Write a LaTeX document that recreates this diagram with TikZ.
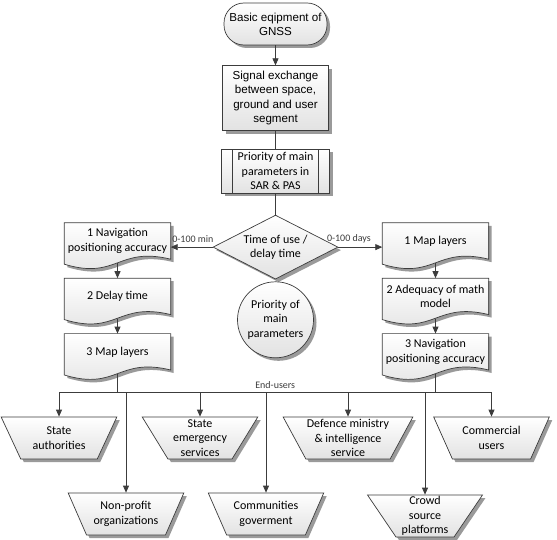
\documentclass[tikz,border=0pt]{standalone}
\usepackage{fontspec}
\setmainfont{Carlito}
\newfontfamily\arialfont{Liberation Sans}
\usepackage{xcolor}
\usepackage{tikz}
\usetikzlibrary{arrows.meta,positioning,shapes.geometric,shapes.misc,%
                shadows,backgrounds,calc}
\definecolor{edge}{HTML}{3C3C3C}
\definecolor{shadowgray}{HTML}{9A9A9A}
\definecolor{fillbot}{HTML}{E2E2E2}
\tikzset{
  shaded/.style ={draw=edge,line width=0.7pt,top color=white,bottom color=fillbot,
                  drop shadow={shadow xshift=3pt,shadow yshift=-3pt,fill=shadowgray,opacity=1}},
  term/.style   ={shaded,rectangle,rounded corners=20pt,minimum width=103pt,minimum height=42pt,
                  inner sep=0pt,align=center,font=\arialfont\fontsize{11.6}{14}\selectfont},
  box/.style    ={shaded,rectangle,minimum width=106pt,minimum height=65pt,inner sep=2pt,
                  align=center,font=\arialfont\fontsize{11.6}{14.5}\selectfont},
  prebox/.style ={shaded,rectangle,minimum width=108pt,minimum height=44pt,inner sep=1pt,
                  align=center,
                  path picture={\draw[edge,line width=0.7pt]
                    ([xshift=11pt]path picture bounding box.north west) --
                    ([xshift=11pt]path picture bounding box.south west)
                    ([xshift=-11pt]path picture bounding box.north east) --
                    ([xshift=-11pt]path picture bounding box.south east);}},
  decide/.style ={shaded,diamond,aspect=2,minimum width=125pt,minimum height=64pt,
                  inner sep=0pt,align=center},
  note/.style   ={shaded,circle,minimum size=76pt,inner sep=0pt,align=center},
  docbox/.style ={rectangle,minimum width=106pt,minimum height=36pt,inner sep=1pt,align=center},
  docline/.style={shaded},
  user/.style   ={shaded,trapezium,shape border rotate=180,trapezium left angle=60,
                  trapezium right angle=60,trapezium stretches=true,minimum width=116pt,
                  minimum height=42pt,inner sep=1pt,align=center},
  lbl/.style    ={font=\fontsize{10}{12}\selectfont,text=edge,inner sep=1pt},
  link/.style   ={draw=edge,line width=0.8pt},
  flow/.style   ={link,-{Triangle[length=7pt,width=6pt]}}
}
\begin{document}
\begin{tikzpicture}[x=1pt,y=-1pt,font=\fontsize{12}{14.5}\selectfont]
  \useasboundingbox (0,0) rectangle (557,540);
  \node[term] (gnss) at (275.5,24) {Basic eqipment of\\GNSS};
  \node[box,below=20pt of gnss] (sig) {Signal exchange\\between space,\\ground and user\\segment};
  \node[prebox,below=18pt of sig] (prio) {Priority of main\\parameters in\\SAR \& PAS};
  \node[decide,below=21pt of prio] (tim) {Time of use /\\delay time};
  \node[note,below=2pt of tim] (prm) {Priority of\\main\\parameters};

  \node[docbox] (nav1) at (117.5,241) {1 Navigation\\positioning accuracy};
  \node[docbox,below=19pt of nav1] (dly) {2 Delay time};
  \node[docbox,below=19pt of dly] (map3) {3 Map layers};
  \node[docbox] (rmap1) at (435.5,241) {1 Map layers};
  \node[docbox,below=19pt of rmap1] (adeq) {2 Adequacy of math\\model};
  \node[docbox,below=19pt of adeq] (rnav3) {3 Navigation\\positioning accuracy};
  \begin{scope}[on background layer]
    \foreach \d in {nav1,dly,map3,rmap1,adeq,rnav3}
      \path[docline] (\d.north west) -- (\d.north east) -- (\d.south east)
        .. controls +(-53,-13) and +(53,16) .. ([yshift=-5pt]\d.south west) -- cycle;
  \end{scope}

  \node[user] (auth) at (59,438) {State\\authorities};
  \node[user] (emer) at (200,438) {State\\emergency\\services};
  \node[user] (dfn) at (348,438) {Defence ministry\\\& intelligence\\service};
  \node[user] (cmrc) at (491.5,438) {Commercial\\users};
  \node[user] (nonp) at (126,514) {Non-profit\\organizations};
  \node[user] (cmty) at (266,514) {Communities\\goverment};
  \node[user] (crwd) at (425,516) {Crowd\\source\\platforms};

  \draw[flow] (gnss) -- (sig);
  \draw[link] (sig) -- (prio);
  \draw[link] (prio) -- (tim);
  \draw[flow] (tim.west) -- node[lbl,above=3pt,pos=0.47] (lmin) {0-100 min} (tim.west -| nav1.east);
  \draw[flow] (tim.east) -- node[lbl,above=3pt,pos=0.24] (lday) {0-100 days} (tim.east -| rmap1.west);
  \draw[flow] ([yshift=-4pt]nav1.south) -- (dly);
  \draw[flow] ([yshift=-4pt]dly.south) -- (map3);
  \draw[flow] ([yshift=-4pt]rmap1.south) -- (adeq);
  \draw[flow] ([yshift=-4pt]adeq.south) -- (rnav3);

  \coordinate (busL) at (59,392);
  \coordinate (busR) at (491.5,392);
  \draw[link] ([yshift=-4pt]map3.south) -- (map3.south |- busL);
  \draw[link] ([yshift=-4pt]rnav3.south) -- (rnav3.south |- busL);
  \draw[link] (busL) -- node[lbl,above=2pt] (endu) {End-users} (busR);
  \foreach \u in {auth,emer,dfn,cmrc,nonp,cmty,crwd}
    \draw[flow] (\u.north |- busL) -- (\u.north);
\end{tikzpicture}
\end{document}
